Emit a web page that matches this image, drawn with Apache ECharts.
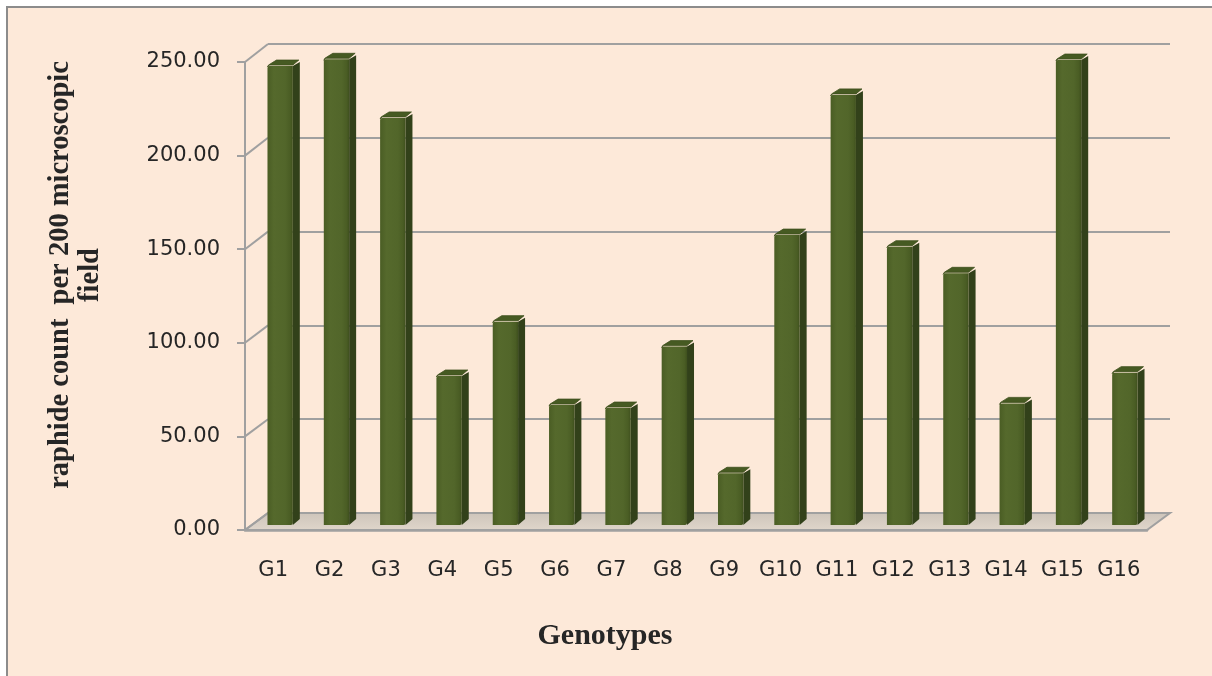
<!DOCTYPE html>
<html>
<head>
<meta charset="utf-8">
<script src="https://cdn.jsdelivr.net/npm/echarts@6/dist/echarts.min.js"></script>
<style>
  html, body { margin: 0; padding: 0; background: #ffffff; }
  #chart { width: 1212px; height: 676px; }
</style>
</head>
<body>
<div id="chart"></div>
<script>
// Genotype labels and raphide counts per 200 microscopic field
const genotypes = ['G1', 'G2', 'G3', 'G4', 'G5', 'G6', 'G7', 'G8',
                   'G9', 'G10', 'G11', 'G12', 'G13', 'G14', 'G15', 'G16'];
const raphideCounts = [244.9, 248.5, 217.2, 79.5, 108.5, 64.0, 62.4, 95.2,
                       27.6, 154.7, 229.5, 148.5, 134.3, 64.9, 248.1, 81.3];
const valueTicks = [0, 50, 100, 150, 200, 250];

const yMin = valueTicks[0];
const yMax = valueTicks[valueTicks.length - 1];
const yStep = valueTicks[1] - valueTicks[0];

// 3D box layout: back wall, front axis plane and the plane the columns stand in
const backWall = { left: 268, top: 44, width: 902, height: 469 };
const frontPlane = { left: 245, top: 62, width: 902, height: 468 };
const barPlane = { left: 252, top: 56.5, width: 901, height: 468.5 };
const depth = { dx: 7, dy: 6 };

const gridColor = '#a0a0a0';
const textColor = '#262626';

const chart = echarts.init(document.getElementById('chart'), null, { renderer: 'canvas' });

function columnItem(params, api) {
  const i = api.value(0);
  const v = api.value(1);
  const top = api.coord([i, v]);
  const base = api.coord([i, 0]);
  const band = api.size([1, 0])[0];
  const w = band * 0.45;
  const x0 = top[0] - w / 2;
  const x1 = x0 + w;
  const yt = top[1];
  const yb = base[1];
  const dx = depth.dx, dy = depth.dy;
  return {
    type: 'group',
    children: [
      {
        type: 'polygon',
        shape: { points: [[x1, yb], [x1 + dx, yb - dy], [x1 + dx, yt - dy + 2], [x1, yt]] },
        style: { fill: '#32411a' }
      },
      {
        type: 'polygon',
        shape: { points: [[x0, yt + 1], [x0 + 2, yt - 1], [x1, yt - 1], [x1 + dx - 1, yt - dy], [x0 + dx + 2, yt - dy], [x0 + 1, yt - 1]] },
        style: { fill: '#465a22', stroke: '#3d4f1d', lineWidth: 0.8 }
      },
      {
        type: 'rect',
        shape: { x: x0, y: yt, width: w, height: yb - yt, r: [2, 0, 2, 0] },
        style: {
          fill: {
            type: 'linear', x: 0, y: 0, x2: 1, y2: 0,
            colorStops: [
              { offset: 0, color: '#4a5d24' },
              { offset: 0.25, color: '#55692c' },
              { offset: 0.7, color: '#52662a' },
              { offset: 0.9, color: '#4a5d24' },
              { offset: 1, color: '#3f501e' }
            ]
          }
        }
      }
    ]
  };
}

const option = {
  animation: false,
  backgroundColor: 'transparent',
  grid: [
    Object.assign({ containLabel: false }, backWall),
    Object.assign({ containLabel: false }, frontPlane),
    Object.assign({ containLabel: false }, barPlane)
  ],
  xAxis: [
    { gridIndex: 0, type: 'category', data: genotypes, show: false },
    {
      gridIndex: 1, type: 'category', data: genotypes,
      axisLine: { show: true, lineStyle: { color: gridColor, width: 2.5 } },
      axisTick: { show: false },
      axisLabel: {
        margin: 30, color: textColor, fontSize: 21,
        fontFamily: 'DejaVu Sans', interval: 0
      }
    },
    { gridIndex: 2, type: 'category', data: genotypes, show: false }
  ],
  yAxis: [
    {
      gridIndex: 0, type: 'value', min: yMin, max: yMax, interval: yStep,
      axisLine: { show: false }, axisTick: { show: false }, axisLabel: { show: false },
      splitLine: { show: true, lineStyle: { color: gridColor, width: 2.2 } }
    },
    {
      gridIndex: 1, type: 'value', min: yMin, max: yMax, interval: yStep,
      axisLine: { show: true, lineStyle: { color: gridColor, width: 2 } },
      axisTick: { show: true, length: 8, lineStyle: { color: gridColor, width: 2 } },
      axisLabel: {
        margin: 25, color: textColor, fontSize: 21, fontFamily: 'DejaVu Sans',
        formatter: (v) => v.toFixed(2)
      },
      splitLine: { show: false }
    },
    {
      gridIndex: 2, type: 'value', min: yMin, max: yMax, interval: yStep, show: false,
      splitLine: { show: false }
    }
  ],
  series: [
    {
      type: 'custom',
      name: 'raphide count',
      xAxisIndex: 2,
      yAxisIndex: 2,
      z: 10,
      renderItem: columnItem,
      data: genotypes.map((g, i) => [i, raphideCounts[i]])
    }
  ]
};

chart.setOption(option);

// Chart area, floor and side-wall lines drawn from the two value axes
const yFront = (v) => chart.convertToPixel({ yAxisIndex: 1 }, v);
const yBack = (v) => chart.convertToPixel({ yAxisIndex: 0 }, v);
const fl = frontPlane.left, fr = frontPlane.left + frontPlane.width;
const bl = backWall.left, br = backWall.left + backWall.width;

const elements = [
  {
    type: 'rect', z: -100, silent: true,
    shape: { x: 7, y: 7, width: 1300, height: 800 },
    style: { fill: '#fde9d9', stroke: '#8c8c8c', lineWidth: 2 }
  },
  {
    type: 'polygon', z: 1, silent: true,
    shape: { points: [[fl, yFront(0)], [fr, yFront(0)], [br, yBack(0)], [bl, yBack(0)]] },
    style: {
      fill: {
        type: 'linear', x: 0, y: 0, x2: 0, y2: 1,
        colorStops: [{ offset: 0, color: '#cdc4ba' }, { offset: 1, color: '#e0d6cb' }]
      },
      stroke: gridColor, lineWidth: 2
    }
  }
];
valueTicks.forEach((v) => {
  elements.push({
    type: 'line', z: 1, silent: true,
    shape: { x1: fl, y1: yFront(v), x2: bl, y2: yBack(v) },
    style: { stroke: gridColor, lineWidth: 2 }
  });
});
elements.push({
  type: 'text', z: 20, silent: true,
  x: 605, y: 636,
  style: {
    text: 'Genotypes', fill: textColor,
    font: 'bold 30px "Liberation Serif"',
    textAlign: 'center', textVerticalAlign: 'middle'
  }
});
elements.push({
  type: 'text', z: 20, silent: true,
  x: 76, y: 275, rotation: Math.PI / 2,
  style: {
    text: 'raphide count  per 200 microscopic\nfield', fill: textColor,
    font: 'bold 28.5px "Liberation Serif"', lineHeight: 30,
    textAlign: 'center', textVerticalAlign: 'middle'
  }
});

chart.setOption({ graphic: { elements: elements } });
</script>
</body>
</html>
